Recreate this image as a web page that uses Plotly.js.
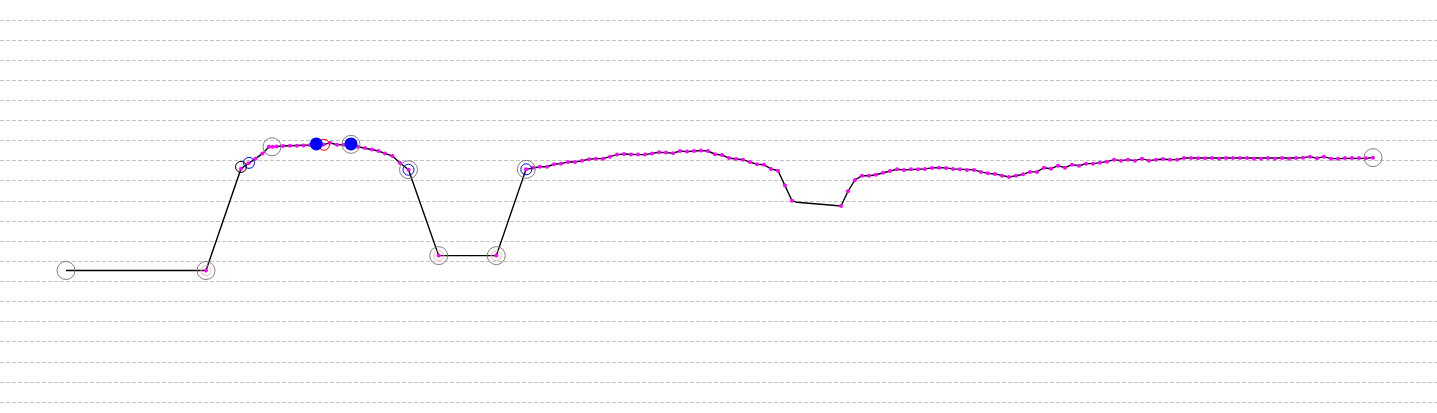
<!DOCTYPE html>
<html>
<head>
<meta charset="utf-8">
<script src="https://cdn.plot.ly/plotly-3.0.1.min.js"></script>
<style>
html,body{margin:0;padding:0;background:#fff;}
#chart{width:1437px;height:413px;}
</style>
</head>
<body>
<div id="chart"></div>
<script>
// Track: position along route and elevation-like value
var trackX = [66, 206, 241, 248.5, 255.5, 262.5, 269, 272.5, 276.5, 283, 290, 297, 303.5, 310, 316.5, 323.5, 330, 337, 344, 351, 358, 365, 372, 378.5, 385, 392.5, 400, 408.5, 438.7, 496.3,
  526, 533, 540, 547, 554, 561, 568, 575, 582, 589, 596, 603, 610, 617, 624, 631, 638, 645, 652, 659, 666, 673, 680, 687, 694, 701, 708, 715, 722, 729, 736, 743, 750, 757, 764, 771, 778, 785, 792,
  797, 820,
  841, 848, 855, 862, 869, 876, 883, 890, 897, 904, 911, 918, 925, 932, 939, 946, 953, 960, 967, 974, 981, 988, 995, 1002, 1009, 1016, 1023, 1030, 1037, 1044, 1051, 1058, 1065, 1072, 1079, 1086, 1093, 1100, 1107, 1114, 1121, 1128, 1135, 1142, 1149, 1156, 1163, 1170, 1177, 1184, 1191, 1198, 1205, 1212, 1219, 1226, 1233, 1240, 1247, 1254, 1261, 1268, 1275, 1282, 1289, 1296, 1303, 1310, 1317, 1324, 1331, 1338, 1345, 1352, 1359, 1366, 1373];
var trackY = [6.55, 6.55, 11.61, 11.88, 12.11, 12.36, 12.70, 12.70, 12.71, 12.74, 12.75, 12.75, 12.76, 12.79, 12.82, 12.81, 12.90, 12.80, 12.80, 12.82, 12.70, 12.64, 12.57, 12.49, 12.37, 12.24, 11.89, 11.56, 7.29, 7.29,
  11.58, 11.66, 11.71, 11.71, 11.83, 11.86, 11.94, 11.94, 12.01, 12.08, 12.11, 12.11, 12.21, 12.31, 12.34, 12.31, 12.31, 12.31, 12.36, 12.43, 12.41, 12.38, 12.49, 12.46, 12.49, 12.51, 12.49, 12.33, 12.29, 12.14, 12.09, 12.06, 11.94, 11.83, 11.81, 11.60, 11.51, 10.77, 10.02,
  9.94, 9.83,
  9.76, 10.49, 11.05, 11.26, 11.26, 11.31, 11.41, 11.50, 11.58, 11.55, 11.58, 11.58, 11.60, 11.65, 11.66, 11.65, 11.60, 11.58, 11.55, 11.55, 11.45, 11.38, 11.35, 11.26, 11.20, 11.26, 11.33, 11.45, 11.45, 11.66, 11.61, 11.76, 11.66, 11.81, 11.76, 11.86, 11.86, 11.91, 11.96, 12.06, 12.01, 12.06, 12.01, 12.11, 12.01, 12.06, 12.09, 12.06, 12.06, 12.14, 12.14, 12.13, 12.13, 12.14, 12.11, 12.14, 12.14, 12.14, 12.14, 12.11, 12.11, 12.14, 12.11, 12.14, 12.11, 12.14, 12.16, 12.21, 12.13, 12.21, 12.11, 12.11, 12.14, 12.14, 12.14, 12.13, 12.16];
// which track points carry a sample dot (1 = dot)
var hasDot = [0, 1, 1, 1, 1, 1, 1, 1, 1, 1, 1, 1, 1, 1, 1, 1, 1, 1, 1, 1, 1, 1, 1, 1, 1, 1, 1, 1, 1, 1,
  1, 1, 1, 1, 1, 1, 1, 1, 1, 1, 1, 1, 1, 1, 1, 1, 1, 1, 1, 1, 1, 1, 1, 1, 1, 1, 1, 1, 1, 1, 1, 1, 1, 1, 1, 1, 1, 1, 1,
  0, 0,
  1, 1, 1, 1, 1, 1, 1, 1, 1, 1, 1, 1, 1, 1, 1, 1, 1, 1, 1, 1, 1, 1, 1, 1, 1, 1, 1, 1, 1, 1, 1, 1, 1, 1, 1, 1, 1, 1, 1, 1, 1, 1, 1, 1, 1, 1, 1, 1, 1, 1, 1, 1, 1, 1, 1, 1, 1, 1, 1, 1, 1, 1, 1, 1, 1, 1, 1, 1, 1, 1, 1, 1, 1, 1, 1, 1, 1];

// Waypoint markers
var greyX = [66, 206, 272, 351, 408.5, 438.7, 496.3, 526.3, 1373];
var greyY = [6.55, 6.55, 12.70, 12.82, 11.56, 7.29, 7.29, 11.58, 12.16];
var pinkX = [206, 438.7, 496.3];
var pinkY = [6.55, 7.29, 7.29];
var blueRingX = [249, 408.5, 526.3];
var blueRingY = [11.90, 11.56, 11.58];
var blackRingX = [241];
var blackRingY = [11.70];
var redRingX = [324];
var redRingY = [12.80];
var blueDotX = [316.3, 351];
var blueDotY = [12.84, 12.84];

var dotX = [], dotY = [];
for (var i = 0; i < trackX.length; i++) {
  if (hasDot[i]) { dotX.push(trackX[i]); dotY.push(trackY[i]); }
}

function ring(x, y, size, color, w) {
  return {x: x, y: y, type: 'scatter', mode: 'markers', hoverinfo: 'skip',
    marker: {symbol: 'circle-open', size: size, color: color, line: {width: w || 1, color: color}}};
}

var traces = [
  {x: trackX, y: trackY, type: 'scatter', mode: 'lines', line: {color: '#000', width: 1.4}, hoverinfo: 'skip'},
  {x: dotX, y: dotY, type: 'scatter', mode: 'markers', marker: {color: '#ff00ff', size: 4}, hoverinfo: 'skip'},
  ring(pinkX, pinkY, 10, '#f5b8b8'),
  ring(greyX, greyY, 18, '#808080'),
  ring(blueRingX, blueRingY, 11, '#0000ff'),
  ring(blackRingX, blackRingY, 11, '#000000'),
  ring(redRingX, redRingY, 11, '#ff0000'),
  {x: blueDotX, y: blueDotY, type: 'scatter', mode: 'markers', marker: {color: '#0000ff', size: 13}, hoverinfo: 'skip'}
];

var layout = {
  width: 1437, height: 413,
  margin: {l: 0, r: 0, t: 0, b: 0, pad: 0},
  paper_bgcolor: '#fff', plot_bgcolor: '#fff',
  showlegend: false,
  xaxis: {range: [0, 1437], showgrid: false, zeroline: false, showline: false, showticklabels: false, ticks: ''},
  yaxis: {range: [-0.532, 19.995], dtick: 1, tick0: 0, showgrid: true, gridcolor: '#c4c4c4', gridwidth: 1, griddash: '4px,2px',
    zeroline: false, showline: false, showticklabels: false, ticks: ''}
};

Plotly.newPlot('chart', traces, layout, {staticPlot: true, displayModeBar: false});
</script>
</body>
</html>
